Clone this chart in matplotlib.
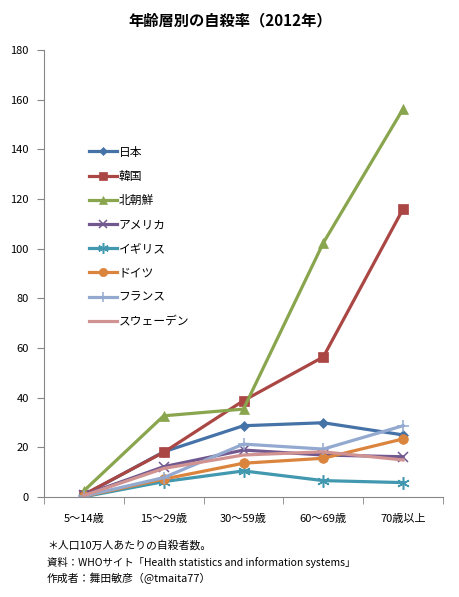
import matplotlib
matplotlib.use("Agg")
import matplotlib.pyplot as plt
from matplotlib.ticker import FixedLocator

plt.rcParams['font.family'] = ['Noto Sans CJK JP', 'DejaVu Sans']

categories = ["5～14歳", "15～29歳", "30～59歳", "60～69歳", "70歳以上"]
japan   = [0.8, 18.2, 28.7, 29.9, 25.0]
korea   = [1.0, 18.0, 38.8, 56.4, 116.0]
nkorea  = [2.5, 32.7, 35.4, 102.3, 156.3]
usa     = [0.8, 12.2, 18.9, 16.9, 16.2]
uk      = [0.1, 6.2, 10.5, 6.6, 5.8]
germany = [0.3, 7.2, 13.6, 15.6, 23.4]
france  = [0.4, 7.8, 21.3, 19.3, 28.7]
sweden  = [0.6, 11.5, 16.9, 18.2, 14.9]

names = ["日本", "韓国", "北朝鮮", "アメリカ", "イギリス", "ドイツ", "フランス", "スウェーデン"]
series = [japan, korea, nkorea, usa, uk, germany, france, sweden]
colors = ["#4572A7", "#AA4643", "#89A54E", "#71588F", "#4198AF", "#DB843D", "#93A9CF", "#D19392"]
markers = ["D", "s", "^", "x", (6, 2, 0), "o", "+", None]
msizes = [5, 7, 7.5, 7, 9, 7, 9, 0]

fig = plt.figure(figsize=(4.6, 5.97), dpi=100)
ax = fig.add_axes([44/460, 1-497/597, (443-44)/460, (497-50)/597])

x = list(range(len(categories)))
for s, n, c, m, ms in zip(series, names, colors, markers, msizes):
    ax.plot(x, s, color=c, lw=2.3, marker=m, markersize=ms, label=n,
            markeredgecolor=c, markeredgewidth=1.1 if m in ("x", "+", (6, 2, 0)) else 0.5)

ax.set_xlim(-0.5, len(categories) - 0.5)
ax.set_ylim(0, 180)
ax.set_yticks(range(0, 181, 20))
ax.set_xticks(x)
ax.set_xticklabels(categories, fontsize=8)
ax.xaxis.set_minor_locator(FixedLocator([i - 0.5 for i in range(len(categories) + 1)]))
ax.tick_params(axis='x', which='major', length=0, pad=12)
ax.tick_params(axis='x', which='minor', length=5, color='#868686', direction='out')
ax.tick_params(axis='y', length=5, color='#868686', labelsize=8, pad=6)
for sp in ['top', 'right']:
    ax.spines[sp].set_visible(False)
for sp in ['left', 'bottom']:
    ax.spines[sp].set_color('#868686')

for mk in []:
    pass
leg = ax.legend(loc='upper left', bbox_to_anchor=(0.085, 0.81), frameon=False,
                fontsize=8.5, handlelength=2.4, handletextpad=0.15, labelspacing=0.95,
                markerscale=0.85)

fig.text(0.5, 1-20/597, "年齢層別の自殺率（2012年）", ha='center', va='center',
         fontsize=11, fontweight='bold')
fig.text(47/460, 1-545/597, "＊人口10万人あたりの自殺者数。", fontsize=7.8, va='center')
fig.text(47/460, 1-562/597, "資料：WHOサイト「Health statistics and information systems」", fontsize=7.5, va='center')
fig.text(47/460, 1-578/597, "作成者：舞田敏彦（@tmaita77）", fontsize=7.8, va='center')

fig.savefig("out.png", dpi=100)
